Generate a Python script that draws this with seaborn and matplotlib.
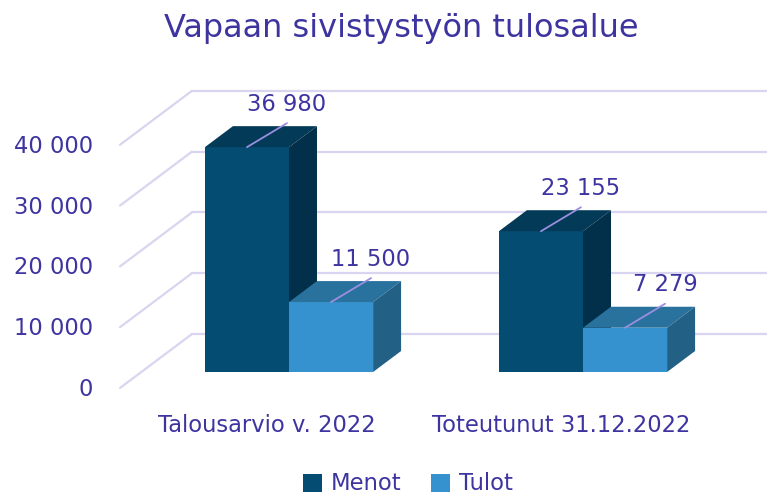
"""
Vapaan sivistystyön tulosalue - pseudo 3D column chart.
"""
import numpy as np
import pandas as pd
import matplotlib
matplotlib.use('Agg')
import matplotlib.pyplot as plt
from matplotlib.patches import Polygon
import seaborn as sns

# --- Data ---
categories = ['Talousarvio v. 2022', 'Toteutunut 31.12.2022']
series = ['Menot', 'Tulot']
menot = [36980, 23155]
tulot = [11500, 7279]
yticks = [0, 10000, 20000, 30000, 40000]
title = 'Vapaan sivistystyön tulosalue'

df = pd.DataFrame({
    'kategoria': categories * 2,
    'sarja': ['Menot'] * len(menot) + ['Tulot'] * len(tulot),
    'arvo': menot + tulot,
})

def fmt(v):
    return f'{v:,}'.replace(',', ' ')

# --- Style ---
TXT = '#3d34a0'
GRID = '#d9d5f1'
LEADER = '#9a8fe0'
front = {'Menot': '#054c72', 'Tulot': '#3592ce'}
top = {'Menot': '#033a57', 'Tulot': '#2a729e'}
side = {'Menot': '#02304a', 'Tulot': '#236086'}
FONT = ['DejaVu Sans']
FS = 16.3

W, H = 767, 497
PX = 1 / 294.0          # x units per pixel
PY = 1000 / 6.08        # value units per pixel
ORIG_X, ORIG_Y = 289, 372   # pixel of category 0 / value 0

bar_d = (28 * PX, 21 * PY)        # bar depth offset
front_off = (-21 * PX, -16 * PY)  # axis front plane relative to bar front
back_off = (51 * PX, 38 * PY)     # back wall relative to bar front

sns.set_style('white')
plt.rcParams['font.family'] = FONT

fig = plt.figure(figsize=(W / 100, H / 100), dpi=100)
ax = fig.add_axes([0, 0, 1, 1])

sns.barplot(data=df, x='kategoria', y='arvo', hue='sarja', order=categories,
            hue_order=series, palette=[front[s] for s in series],
            width=0.572, saturation=1, linewidth=0, ax=ax)

ax.set_xlim(-ORIG_X * PX, (W - ORIG_X) * PX)
ax.set_ylim(-(H - ORIG_Y) * PY, ORIG_Y * PY)
ax.axis('off')

# --- grid: left floor/wall diagonals and back wall lines ---
x_front = (120 - ORIG_X) * PX - front_off[0]
for v in yticks:
    x0, y0 = x_front + front_off[0], v + front_off[1]
    x1, y1 = x_front + back_off[0], v + back_off[1]
    ax.plot([x0, x1], [y0, y1], color=GRID, lw=1.6, zorder=0)
    ax.plot([x1, (W - ORIG_X) * PX + 0.1], [y1, y1], color=GRID, lw=1.6, zorder=0)
    ax.text(x0 - 27 * PX, y0 - 1.5 * PY, fmt(v), ha='right', va='center',
            fontsize=FS, color=TXT)

# --- 3D faces, leaders and value labels ---
for k, (s, cont) in enumerate(zip(series, ax.containers)):
    for bar in cont:
        bar.set_zorder(2 + k)
        x, w, h = bar.get_x(), bar.get_width(), bar.get_height()
        dx, dy = bar_d
        ax.add_patch(Polygon([(x, h), (x + w, h), (x + w + dx, h + dy), (x + dx, h + dy)],
                             closed=True, facecolor=top[s], edgecolor='none', zorder=2 + k))
        ax.add_patch(Polygon([(x + w, 0), (x + w + dx, dy), (x + w + dx, h + dy), (x + w, h)],
                             closed=True, facecolor=side[s], edgecolor='none', zorder=2 + k))
        cx = x + w / 2
        ex, ey = cx + 40 * PX, h + 24 * PY
        ax.plot([cx, ex], [h, ey], color=LEADER, lw=1.3, zorder=5)
        ax.text(ex, ey + 19 * PY, fmt(int(h)), ha='center', va='center',
                fontsize=FS, color=TXT, zorder=6)

# --- category labels ---
for i, c in enumerate(categories):
    ax.text(i - 22 * PX, -53 * PY, c, ha='center', va='center',
            fontsize=FS, color=TXT)

fig.text(401 / W, 1 - 28 / H, title, ha='center', va='center',
         fontsize=23, color=TXT)

handles, labels = ax.get_legend_handles_labels()
ax.legend(handles, labels, loc='center', bbox_to_anchor=(408 / W, 1 - 484 / H),
          bbox_transform=fig.transFigure, ncol=2, frameon=False,
          handlelength=0.85, handleheight=0.85, handletextpad=0.4,
          columnspacing=1.3, fontsize=FS, labelcolor=TXT)

fig.savefig('out.png', dpi=100)
